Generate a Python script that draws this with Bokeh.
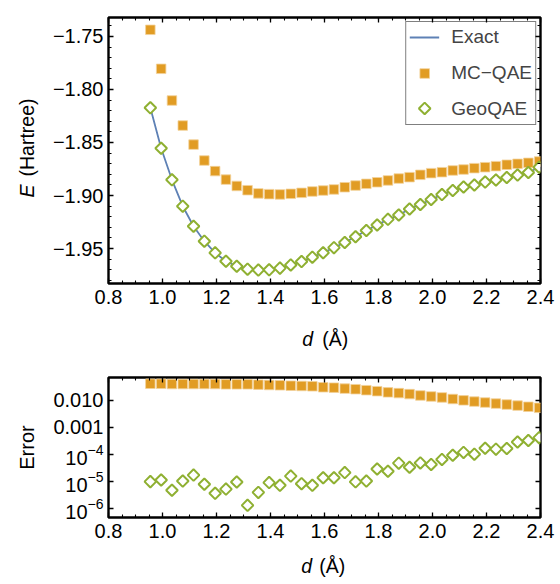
import numpy as np
from bokeh.plotting import figure
from bokeh.layouts import column
from bokeh.models import (FixedTicker, LinearAxis, LogAxis, Range1d, Label,
                          Legend, LegendItem, CustomJSTickFormatter)
from bokeh.embed import file_html
from bokeh.resources import INLINE

# ---------------- data ----------------
d = [0.955, 0.995, 1.035, 1.075, 1.115, 1.155, 1.195, 1.235, 1.275, 1.315,
     1.355, 1.395, 1.435, 1.475, 1.515, 1.555, 1.595, 1.635, 1.675, 1.715,
     1.755, 1.795, 1.835, 1.875, 1.915, 1.955, 1.995, 2.035, 2.075, 2.115,
     2.155, 2.195, 2.235, 2.275, 2.315, 2.355, 2.395]

exact_E = [-1.8173, -1.8554, -1.8852, -1.9101, -1.9290, -1.9431, -1.9541, -1.9620,
           -1.9667, -1.9695, -1.9703, -1.9701, -1.9685, -1.9655, -1.9623, -1.9582,
           -1.9540, -1.9492, -1.9443, -1.9389, -1.9330, -1.9278, -1.9225, -1.9184,
           -1.9127, -1.9085, -1.9038, -1.8991, -1.8953, -1.8920, -1.8901, -1.8873,
           -1.8854, -1.8830, -1.8807, -1.8783, -1.8733]

mc_E = [-1.7437, -1.7805, -1.8104, -1.8340, -1.8520, -1.8670, -1.8770, -1.8850,
        -1.8910, -1.8950, -1.8980, -1.8987, -1.8990, -1.8984, -1.8975, -1.8962,
        -1.8953, -1.8943, -1.8922, -1.8906, -1.8890, -1.8875, -1.8858, -1.8840,
        -1.8827, -1.8805, -1.8789, -1.8780, -1.8764, -1.8755, -1.8742, -1.8733,
        -1.8723, -1.8710, -1.8701, -1.8692, -1.8679]

geo_E = [-1.8173, -1.8554, -1.8852, -1.9101, -1.9290, -1.9431, -1.9541, -1.9620,
         -1.9667, -1.9695, -1.9703, -1.9701, -1.9685, -1.9655, -1.9623, -1.9582,
         -1.9540, -1.9492, -1.9443, -1.9389, -1.9330, -1.9278, -1.9225, -1.9184,
         -1.9127, -1.9085, -1.9038, -1.8991, -1.8953, -1.8920, -1.8901, -1.8873,
         -1.8854, -1.8830, -1.8807, -1.8783, -1.8733]

mc_err = [0.041, 0.041, 0.040, 0.040, 0.040, 0.040, 0.040, 0.039, 0.039, 0.039,
          0.038, 0.0368, 0.0359, 0.0347, 0.0339, 0.0330, 0.0304, 0.0294, 0.0271,
          0.0258, 0.0237, 0.0218, 0.0197, 0.0185, 0.0170, 0.0151, 0.0139, 0.0128,
          0.0112, 0.0100, 0.0090, 0.0083, 0.0076, 0.0070, 0.0064, 0.0058, 0.0053]

geo_err = [1.0e-5, 1.15e-5, 4.8e-6, 1.05e-5, 1.74e-5, 8.0e-6, 3.7e-6, 5.3e-6,
           9.7e-6, 1.33e-6, 4.0e-6, 9.2e-6, 7.3e-6, 1.6e-5, 8.4e-6, 7.3e-6,
           1.39e-5, 1.39e-5, 2.15e-5, 9.8e-6, 1.05e-5, 2.93e-5, 2.42e-5, 4.8e-5,
           3.4e-5, 4.9e-5, 4.3e-5, 6.6e-5, 9.4e-5, 1.2e-4, 1.03e-4, 1.71e-4,
           1.58e-4, 1.67e-4, 2.9e-4, 3.3e-4, 4.2e-4]

x_ticks = [0.8, 1.0, 1.2, 1.4, 1.6, 1.8, 2.0, 2.2, 2.4]
x_tick_labels = ["0.8", "1.0", "1.2", "1.4", "1.6", "1.8", "2.0", "2.2", "2.4"]
e_ticks = [-1.95, -1.90, -1.85, -1.80, -1.75]
e_tick_labels = ["\u22121.95", "\u22121.90", "\u22121.85", "\u22121.80", "\u22121.75"]
err_ticks = [1e-6, 1e-5, 1e-4, 1e-3, 1e-2]

series_names = ["Exact", "MC\u2212QAE", "GeoQAE"]

# ---------------- style ----------------
FONT = "Liberation Sans"
BLUE = "#5E81B5"
ORANGE = "#E19C24"
ORANGE_EDGE = "#F3D29B"
GREEN = "#8FB032"
TICK_FS = "20px"
LEG_FS = "19px"
LAB_FS = "19.5px"

x_minor = [round(v, 3) for v in np.arange(0.8, 2.4001, 0.05)]
e_minor = [round(v, 3) for v in np.arange(-1.98, -1.7399, 0.01)]


def style_axis(ax, show_labels=True):
    ax.axis_line_color = None
    ax.major_tick_in = 5
    ax.major_tick_out = 0
    ax.minor_tick_in = 3
    ax.minor_tick_out = 0
    ax.major_tick_line_color = "black"
    ax.minor_tick_line_color = "black"
    ax.major_tick_line_width = 1.3
    ax.minor_tick_line_width = 1.1
    ax.major_label_text_font = FONT
    ax.major_label_text_color = "black"
    if show_labels:
        ax.major_label_text_font_size = TICK_FS
    else:
        ax.formatter = CustomJSTickFormatter(code="return ''")
        ax.major_label_text_font_size = "1px"
        ax.major_label_standoff = 0


def base_fig(height, bottom, **kw):
    p = figure(width=560, height=height, output_backend="svg",
               toolbar_location=None, x_range=Range1d(0.8, 2.4),
               min_border_left=108, min_border_right=20,
               min_border_top=17, min_border_bottom=bottom, **kw)
    p.grid.visible = False
    p.outline_line_color = "black"
    p.outline_line_width = 2.4
    p.background_fill_color = "white"
    p.border_fill_color = "white"
    return p


def text_label(p, side, x, y, text, italic=False, angle=0.0, align="left",
               baseline="alphabetic"):
    # placed in a side panel so that it is not clipped to the frame
    p.add_layout(Label(x=x, y=y, text=text, angle=angle, text_align=align,
                       text_baseline=baseline, text_font=FONT,
                       text_font_style="italic" if italic else "normal",
                       text_font_size=LAB_FS, text_color="black"), side)


# ---------------- top panel ----------------
p1 = base_fig(360, 77, y_range=Range1d(-1.983, -1.7321))
p1.xaxis.ticker = FixedTicker(ticks=x_ticks, minor_ticks=x_minor)
p1.yaxis.ticker = FixedTicker(ticks=e_ticks, minor_ticks=e_minor)
p1.xaxis.major_label_overrides = dict(zip(x_ticks, x_tick_labels))
p1.yaxis.major_label_overrides = dict(zip(e_ticks, e_tick_labels))
style_axis(p1.xaxis[0])
style_axis(p1.yaxis[0])
p1.xaxis.major_label_standoff = 6
p1.yaxis.major_label_standoff = 5
ax_top = LinearAxis(ticker=FixedTicker(ticks=x_ticks, minor_ticks=x_minor))
ax_right = LinearAxis(ticker=FixedTicker(ticks=e_ticks, minor_ticks=e_minor))
style_axis(ax_top, False)
style_axis(ax_right, False)
p1.add_layout(ax_top, "above")
p1.add_layout(ax_right, "right")

r_exact = p1.line(d, exact_E, line_color=BLUE, line_width=1.8)
r_mc = p1.scatter(d, mc_E, marker="square", size=9.5, fill_color=ORANGE,
                  line_color=ORANGE_EDGE, line_width=0.8)
r_geo = p1.scatter(d, geo_E, marker="square", angle=np.pi / 4, size=8.2,
                   fill_color="white", line_color=GREEN, line_width=2)
# legend entry placeholder for GeoQAE (its diamond symbol is drawn below,
# visible through the transparent legend background)
r_geo_leg = p1.scatter([], [], marker="square", size=8.2, fill_alpha=0,
                       line_alpha=0)
leg_diamond = p1.scatter([1.971], [-1.8179], marker="square", angle=np.pi / 4,
                         size=8.2, fill_color="white", line_color=GREEN,
                         line_width=2)

legend = Legend(items=[LegendItem(label=series_names[0], renderers=[r_exact]),
                       LegendItem(label=series_names[1], renderers=[r_mc]),
                       LegendItem(label=series_names[2], renderers=[r_geo_leg])],
                location="top_right")
legend.margin = 4
legend.padding = 3
legend.spacing = 12
legend.glyph_width = 30
legend.glyph_height = 24
legend.label_height = 24
legend.label_standoff = 12
legend.label_text_font = FONT
legend.label_text_font_size = LEG_FS
legend.border_line_color = "black"
legend.border_line_width = 1.5
legend.background_fill_alpha = 0.0
p1.add_layout(legend)

# axis titles (italic variable names)
text_label(p1, "left", 0.4989, -1.9019, "E", italic=True, angle=np.pi / 2,
           baseline="middle")
text_label(p1, "left", 0.4989, -1.8821, "(Hartree)", angle=np.pi / 2,
           baseline="middle")
text_label(p1, "below", 1.5175, -2.0349, "d", italic=True)
text_label(p1, "below", 1.5918, -2.0349, "(\u00c5)")

# ---------------- bottom panel ----------------
p2 = base_fig(224, 63, y_axis_type="log", y_range=Range1d(4.74e-7, 0.0697))
p2.xaxis.ticker = FixedTicker(ticks=x_ticks, minor_ticks=x_minor)
p2.xaxis.major_label_overrides = dict(zip(x_ticks, x_tick_labels))
p2.yaxis.ticker = FixedTicker(ticks=err_ticks, minor_ticks=[])
p2.yaxis.major_label_overrides = {1e-2: "0.010", 1e-3: "0.001"}
style_axis(p2.xaxis[0])
style_axis(p2.yaxis[0])
p2.xaxis.major_label_standoff = 6
p2.yaxis.major_label_standoff = 5
p2.yaxis.axis_label = "Error"
p2.yaxis.axis_label_text_font = FONT
p2.yaxis.axis_label_text_font_style = "normal"
p2.yaxis.axis_label_text_font_size = "20px"
p2.yaxis.axis_label_text_color = "black"
p2.yaxis.axis_label_standoff = 12
ax_top2 = LinearAxis(ticker=FixedTicker(ticks=x_ticks, minor_ticks=x_minor))
ax_right2 = LogAxis(ticker=FixedTicker(ticks=err_ticks, minor_ticks=[]))
style_axis(ax_top2, False)
style_axis(ax_right2, False)
p2.add_layout(ax_top2, "above")
p2.add_layout(ax_right2, "right")

p2.scatter(d, mc_err, marker="square", size=9.5, fill_color=ORANGE,
           line_color=ORANGE_EDGE, line_width=0.8)
p2.scatter(d, geo_err, marker="square", angle=np.pi / 4, size=8.2,
           fill_color="white", line_color=GREEN, line_width=2)

text_label(p2, "below", 1.5138, 7.92e-9, "d", italic=True)
text_label(p2, "below", 1.5807, 7.92e-9, "(\u00c5)")

layout = column(p1, p2, spacing=0)
open("out.html", "w").write(file_html(layout, INLINE))
